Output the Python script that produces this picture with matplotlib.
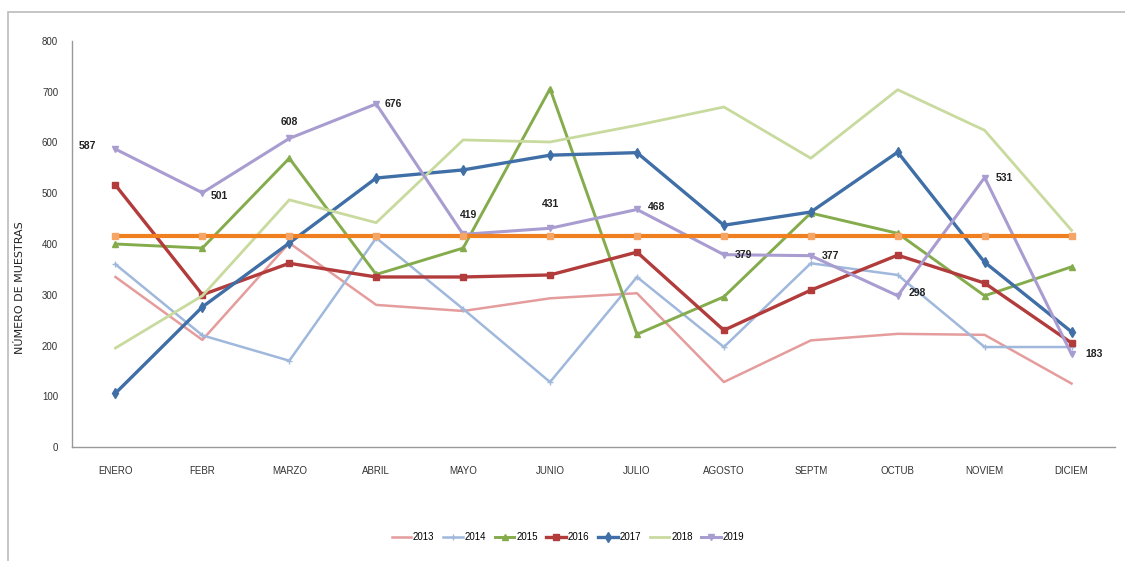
import matplotlib.pyplot as plt
from matplotlib.patches import Rectangle

plt.rcParams['font.family'] = ['Liberation Sans Narrow', 'Liberation Sans', 'DejaVu Sans']

meses = ['ENERO', 'FEBR', 'MARZO', 'ABRIL', 'MAYO', 'JUNIO', 'JULIO',
         'AGOSTO', 'SEPTM', 'OCTUB', 'NOVIEM', 'DICIEM']

y2013 = [335, 211, 402, 280, 268, 293, 303, 128, 210, 223, 221, 125]
y2014 = [360, 220, 170, 412, 272, 128, 335, 197, 362, 339, 197, 197]
y2015 = [400, 392, 569, 340, 392, 706, 222, 296, 461, 421, 298, 355]
y2016 = [516, 300, 362, 335, 335, 339, 384, 230, 309, 378, 323, 205]
y2017 = [106, 276, 402, 530, 546, 575, 580, 437, 463, 581, 364, 227]
y2018 = [195, 298, 487, 442, 605, 601, 634, 670, 569, 704, 624, 427]
y2019 = [587, 501, 608, 676, 419, 431, 468, 379, 377, 298, 531, 183]
promedio = [415] * 12

# series: (label, values, color, linewidth, marker, markersize)
series = [
    ('2013', y2013, '#E59C9C', 1.8, None, 0),
    ('2014', y2014, '#9FB8DC', 1.8, '+', 5),
    ('2015', y2015, '#84AC4C', 2.1, '^', 5),
    ('2016', y2016, '#B23B3B', 2.4, 's', 5),
    ('2017', y2017, '#3F6FA6', 2.4, 'd', 5),
    ('2018', y2018, '#C8DA9E', 2.0, None, 0),
    ('2019', y2019, '#A89CD0', 2.2, 'v', 5),
]

fig = plt.figure(figsize=(11.25, 5.61), dpi=100)
ax = fig.add_axes([72 / 1125, 1 - 447 / 561, (1115 - 72) / 1125, (447 - 41) / 561])

x = list(range(len(meses)))
for label, vals, color, lw, mk, ms in series:
    ax.plot(x, vals, color=color, lw=lw, marker=mk, markersize=ms,
            markeredgecolor=color, label=label)

ax.plot(x, promedio, color='#F07F1F', lw=3, marker='s', markersize=4,
        markerfacecolor='#F5A565', markeredgecolor='#F5A565')

# value labels on 2019
offsets = [(-14, 2, 'right', 'center'), (6, -2, 'left', 'center'),
           (0, 8, 'center', 'bottom'), (6, 0, 'left', 'center'),
           (4, 10, 'center', 'bottom'), (0, 14, 'center', 'bottom'),
           (8, 2, 'left', 'center'), (8, 0, 'left', 'center'),
           (8, 0, 'left', 'center'), (8, 2, 'left', 'center'),
           (8, 0, 'left', 'center'), (10, 0, 'left', 'center')]
for i, v in enumerate(y2019):
    dx, dy, ha, va = offsets[i]
    ax.annotate(str(v), (i, v), xytext=(dx, dy), textcoords='offset points',
                ha=ha, va=va, fontsize=7.5, fontweight='bold', color='#222222')

ax.set_xlim(-0.5, 11.5)
ax.set_ylim(0, 800)
ax.set_yticks(range(0, 801, 100))
ax.set_xticks(x)
ax.set_xticklabels(meses)
ax.tick_params(axis='both', length=0, labelsize=7, colors='#333333')
ax.tick_params(axis='y', pad=10)
ax.tick_params(axis='x', pad=14)
for s in ['top', 'right']:
    ax.spines[s].set_visible(False)
for s in ['left', 'bottom']:
    ax.spines[s].set_color('#999999')
    ax.spines[s].set_linewidth(1)

fig.text(20 / 1125, 1 - 288 / 561, 'NÚMERO DE MUESTRAS', rotation=90,
         ha='center', va='center', fontsize=8, color='#222222',
         family=['DejaVu Sans'])

leg = fig.legend(loc='center', bbox_to_anchor=(568 / 1125, 1 - 537 / 561),
                 ncol=7, frameon=False, fontsize=7, handlelength=2.0,
                 columnspacing=0.9, handletextpad=0.2)

# outer frame
fig.patches.append(Rectangle((8 / 1125, -0.01), 1.1, 1 - 12 / 561 + 0.01,
                             transform=fig.transFigure, fill=False,
                             edgecolor='#BBBBBB', lw=1.2))

fig.savefig('out.png', dpi=100)
